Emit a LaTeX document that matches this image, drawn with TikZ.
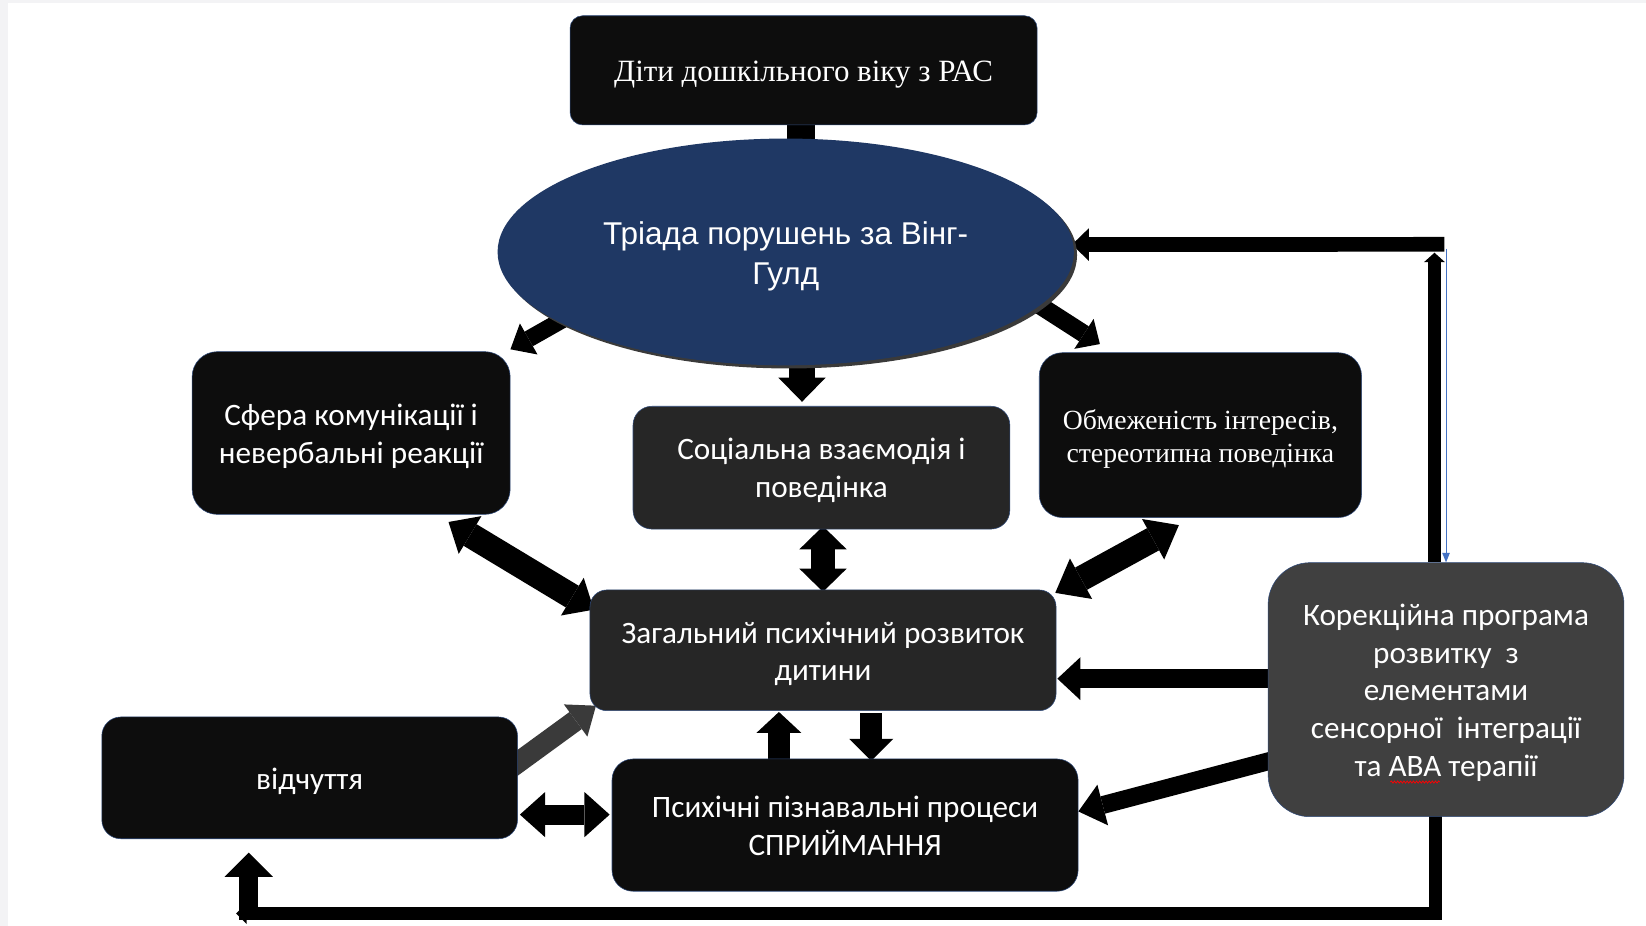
\documentclass[tikz,border=0pt]{standalone}
\usepackage{fontspec}
\setmainfont{Liberation Serif}
\newfontfamily\fcal{Carlito}
\newfontfamily\fser{Liberation Serif}
\newfontfamily\fari{Liberation Sans}
\usetikzlibrary{arrows.meta,calc,shapes.geometric,decorations.pathmorphing}
\pgfdeclarelayer{bg}
\pgfdeclarelayer{back}
\pgfsetlayers{back,bg,main}
\definecolor{boxk}{HTML}{0D0D0D}
\definecolor{boxg}{HTML}{262626}
\definecolor{boxkor}{HTML}{404040}
\definecolor{ellf}{HTML}{1F3864}
\definecolor{edgec}{HTML}{2F4A7A}
\definecolor{thinb}{HTML}{4472C4}
\definecolor{arrg}{HTML}{3A3A3A}
\definecolor{stripc}{HTML}{F3F3F5}
\definecolor{shadc}{HTML}{3A3A3A}
\newcommand\ctext[2][3.5pt]{\raisebox{-#1}[\height][\depth]{\begin{tabular}{@{}c@{}}#2\end{tabular}}}
\tikzset{
 box/.style={draw=edgec, line width=0.5pt, text=white, inner sep=0pt},
 calf/.style={font=\fcal\fontsize{29.7}{36}\selectfont},
 barrow/.style n args={3}{line width=#1pt, -{Triangle[width=#2pt,length=#3pt,line width=0pt]}},
 dbarrow/.style n args={3}{line width=#1pt, {Triangle[width=#2pt,length=#3pt,line width=0pt]}-{Triangle[width=#2pt,length=#3pt,line width=0pt]}},
}
\begin{document}
\begin{tikzpicture}[x=1pt,y=-1pt]
\useasboundingbox (0,0) rectangle (1568,882);
\begin{pgfonlayer}{back}
\fill[stripc] (0,0) rectangle (1568,882);
\fill[white] (8,3) rectangle (1568,882);
\end{pgfonlayer}

\node[box, fill=boxk, rounded corners=12pt, minimum width=445pt, minimum height=104pt,
      font=\fser\fontsize{29.5}{34}\selectfont] (top) at (765.5,67) {\ctext[4pt]{Діти дошкільного віку з РАС}};
\node[ellipse, fill=ellf, minimum width=549pt, minimum height=216pt, inner sep=0pt, text=white,
      font=\fari\fontsize{30}{38}\selectfont] (ell) at (748.5,240) {\ctext[4pt]{Тріада порушень за Вінг-\\Гулд}};
\node[box, calf, fill=boxk, rounded corners=24pt, minimum width=303pt, minimum height=155pt]
      (left) at (334.5,412.5) {\ctext{Сфера комунікації і\\невербальні реакції}};
\node[box, calf, fill=boxg, rounded corners=18pt, minimum width=359pt, minimum height=117pt]
      (soc) at (782.5,445.5) {\ctext{Соціальна взаємодія і\\поведінка}};
\node[box, fill=boxk, rounded corners=22pt, minimum width=307pt, minimum height=157pt,
      font=\fser\fontsize{26.4}{31}\selectfont] (right) at (1143.5,414.5) {\ctext[4pt]{Обмеженість інтересів,\\стереотипна поведінка}};
\node[box, calf, fill=boxg, rounded corners=16pt, minimum width=444pt, minimum height=115pt]
      (gen) at (784,619.5) {\ctext[4pt]{Загальний психічний розвиток\\дитини}};
\node[box, calf, fill=boxk, rounded corners=18pt, minimum width=396pt, minimum height=116pt]
      (vid) at (295,741) {\ctext[4pt]{відчуття}};
\node[box, calf, fill=boxk, rounded corners=20pt, minimum width=444pt, minimum height=126pt]
      (psy) at (805,786) {\ctext{Психічні пізнавальні процеси\\СПРИЙМАННЯ}};
\node[box, calf, fill=boxkor, rounded corners=40pt, minimum width=339pt, minimum height=242pt]
      (kor) at (1377.5,657) {\ctext{Корекційна програма\\розвитку~ з\\елементами\\сенсорної~ інтеграції\\та ABA терапії}};
\draw[red, line width=0.7pt, decorate, decoration={snake, amplitude=1pt, segment length=3pt}]
      ($(kor.center)+(-53,88)$) -- ($(kor.center)+(-6,88)$);

\begin{pgfonlayer}{bg}
% top -> ellipse
\draw[line width=26pt] ($(top.south)+(-2.5,0)$) -- ($(ell.north)+(14.5,10)$);
% ellipse -> three boxes
\draw[barrow={16}{34}{20}] ($(left.north east)+(60,-36)$) -- ($(left.north east)+(0,-2)$);
\draw[barrow={24}{45}{23}] ($(soc.north)+(-18.5,-60)$) -- ($(soc.north)+(-18.5,-4)$);
\draw[barrow={17}{34}{18}] ($(right.north west)+(-26,-62)$) -- ($(right.north west)+(58,-8)$);
% boxes <-> general
\draw[dbarrow={24}{42}{24}] ($(left.south east)+(-59,7)$) -- ($(gen.north west)+(4,19)$);
\draw[dbarrow={23}{45}{22}] ($(soc.south)+(1.5,-3)$) -- ($(gen.north)+(0,2)$);
\draw[dbarrow={24}{44}{28}] ($(right.south)+(-20.5,7)$) -- ($(gen.north east)+(-1,3)$);
% correction -> general, perception
\draw[barrow={18}{41}{22}] ($(kor.west)+(5,-10.5)$) -- ($(gen.east)+(1,27)$);
\draw[barrow={17}{40}{24}] ($(kor.west)+(5,67)$) -- ($(psy.east)+(0,-13)$);
% general <-> perception
\draw[barrow={21}{42}{21}] ($(gen.south)+(46,2)$) -- ($(psy.north)+(25,2)$);
\draw[barrow={21}{43}{20}] ($(psy.north)+(-63,4)$) -- ($(gen.south)+(-42,1)$);
% sensation
\draw[barrow={20}{38}{24}, color=arrg] ($(vid.east)+(-13,-5)$) -- ($(gen.south west)+(6,-5)$);
\draw[dbarrow={19}{43}{24}] ($(vid.east)+(2,35)$) -- ($(psy.west)+(-2,-10)$);
% feedback to ellipse
\draw[line width=14pt, -{Triangle[width=31pt,length=16pt,line width=0pt]}]
      ($(kor.north)+(-1.5,-303)$) -- ($(ell.east)+(-2,-7)$);
\draw[line width=13pt, -{Triangle[width=20pt,length=9pt,line width=0pt]}]
      ($(kor.north)+(-11,0)$) -- ($(kor.north)+(-11,-295)$);
\draw[thinb, line width=1pt, -{Triangle[width=7pt,length=9pt]}]
      ($(kor.north)+(0,-299)$) -- (kor.north);
% feedback to sensation
\draw[line width=13pt, -{Triangle[width=20pt,length=10pt,line width=0pt]}]
      ($(kor.south)+(-10,-5)$) -- ($(kor.south)+(-10,92)$) -- ($(vid.south)+(-70,71)$);
\draw[barrow={18}{46}{23}] ($(vid.south)+(-58,77)$) -- ($(vid.south)+(-58,13)$);
% ellipse shadow
\fill[shadc] ($(ell.center)+(3,3)$) ellipse [x radius=274.5pt, y radius=108pt];
\end{pgfonlayer}
\end{tikzpicture}
\end{document}
